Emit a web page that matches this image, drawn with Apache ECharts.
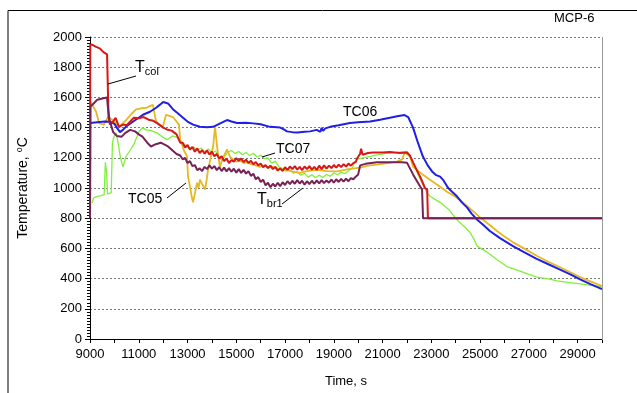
<!DOCTYPE html>
<html>
<head>
<meta charset="utf-8">
<script src="https://cdn.jsdelivr.net/npm/echarts@6/dist/echarts.min.js"></script>
<style>
  html, body { margin: 0; padding: 0; background: #fff; }
  #chart { width: 637px; height: 393px; }
</style>
</head>
<body>
<div id="chart"></div>
<script>
// tick labels shown on the time axis
const xLabels = [9000, 11000, 13000, 15000, 17000, 19000, 21000, 23000, 25000, 27000, 29000];

// [time s, temperature C]
const tc06 = [
  [9000,1430],[9300,1435],[9600,1440],[9850,1438],[10000,1425],[10100,1400],[10230,1370],[10350,1385],
  [10500,1410],[10700,1432],[10950,1460],[11170,1485],[11460,1505],[11700,1530],[11870,1552],[12000,1570],
  [12080,1582],[12200,1560],[12400,1522],[12600,1495],[12815,1465],[13000,1440],[13230,1420],[13500,1406],
  [13800,1402],[14050,1405],[14300,1425],[14620,1450],[14800,1440],[15030,1430],[15400,1432],[15700,1428],
  [16000,1422],[16380,1405],[16800,1400],[16950,1388],[17080,1375],[17300,1370],[17500,1368],[17800,1372],
  [18030,1375],[18300,1385],[18450,1372],[18500,1398],[18560,1378],[18650,1395],[18850,1405],[19200,1415],
  [19660,1430],[20000,1435],[20490,1440],[20900,1452],[21300,1465],[21600,1475],[21900,1483],[22050,1470],
  [22250,1400],[22450,1300],[22650,1210],[22850,1150],[23030,1110],[23200,1085],[23360,1075],[23500,1050],
  [23690,1000],[23850,975],[24050,945],[24250,905],[24470,870],[24650,830],[24880,790],[25100,760],
  [25400,715],[25800,670],[26350,615],[26800,575],[27300,532],[27800,495],[28280,460],[28700,428],
  [29100,395],[29550,362],[30000,330]
];

const tc07 = [
  [9080,900],[9150,935],[9300,945],[9450,950],[9580,955],[9630,1170],[9680,1100],[9720,960],[9800,950],
  [9870,970],[9920,1300],[10000,1350],[10070,1365],[10150,1300],[10250,1200],[10350,1140],[10480,1210],
  [10650,1250],[10800,1290],[11000,1370],[11150,1400],[11300,1385],[11500,1380],[11750,1365],[12000,1335],
  [12160,1320],[12400,1345],[12570,1335],[12800,1300],[12980,1275],[13100,1255],[13250,1272],[13400,1248],
  [13550,1265],[13700,1240],[13850,1258],[14000,1232],[14150,1245],[14300,1195],[14450,1188],[14550,1215],
  [14650,1238],[14800,1248],[14950,1228],[15100,1242],[15250,1220],[15400,1235],[15550,1215],[15700,1230],
  [15850,1205],[16000,1218],[16150,1195],[16300,1200],[16450,1165],[16600,1178],[16750,1140],[16900,1128],
  [17050,1112],[17200,1120],[17350,1098],[17500,1108],[17650,1085],[17800,1098],[17950,1072],[18100,1088],
  [18250,1068],[18400,1085],[18550,1070],[18700,1090],[18850,1078],[19000,1100],[19150,1088],[19300,1105],
  [19450,1095],[19600,1115],[19750,1130],[19850,1170],[19950,1190],[20200,1200],[20500,1210],[20770,1220],
  [21100,1228],[21400,1233],[21700,1238],[22000,1242],[22120,1215],[22250,1170],[22450,1090],[22660,1020],
  [22800,975],[22950,945],[23150,925],[23360,905],[23700,860],[24050,790],[24350,745],[24590,705],
  [24750,660],[24880,615],[25290,575],[25700,525],[26100,480],[26640,450],[27000,428],[27340,410],
  [27800,398],[28160,385],[28600,375],[29100,365],[29550,355],[30000,345]
];

const tc05 = [
  [9030,1570],[9100,1580],[9250,1505],[9370,1430],[9570,1420],[9740,1470],[9940,1450],[10190,1405],
  [10480,1450],[10700,1490],[10890,1520],[11100,1528],[11300,1530],[11450,1542],[11580,1550],[11700,1450],
  [11800,1420],[11990,1405],[12120,1485],[12250,1478],[12400,1470],[12650,1420],[12700,1320],[12850,1250],
  [12980,1210],[13020,1075],[13100,1010],[13180,935],[13225,905],[13300,960],[13390,1035],[13450,1000],
  [13510,1055],[13600,1025],[13720,990],[13790,1060],[13840,1120],[13950,1200],[14050,1275],[14130,1405],
  [14210,1275],[14280,1190],[14330,1140],[14450,1200],[14620,1255],[14750,1205],[14866,1190],[15000,1175],
  [15150,1182],[15300,1165],[15440,1172],[15600,1158],[15800,1150],[15973,1140],[16150,1148],[16350,1135],
  [16507,1142],[16700,1128],[16900,1122],[17081,1120],[17300,1108],[17614,1100],[17900,1112],[18312,1120],
  [18700,1112],[19132,1110],[19600,1125],[20075,1135],[20400,1148],[20773,1155],[21200,1165],[21593,1175],
  [21800,1190],[21921,1240],[22000,1225],[22126,1210],[22250,1140],[22600,1095],[22947,1055],[23300,1015],
  [23644,975],[24000,940],[24300,905],[24650,855],[25000,805],[25350,760],[25695,715],[26000,678],
  [26351,640],[26850,595],[27336,550],[27800,512],[28280,475],[28700,442],[29100,410],[29550,380],
  [30000,350]
];

const tcol = [
  [9000,800],[9010,1950],[9100,1948],[9250,1935],[9400,1925],[9550,1900],[9700,1885],[9740,1880],
  [9760,1470],[9820,1420],[9950,1440],[10050,1465],[10190,1405],[10350,1420],[10500,1415],[10650,1440],
  [10800,1465],[11000,1462],[11200,1470],[11400,1452],[11600,1445],[11800,1425],[12000,1400],[12150,1388],
  [12350,1380],[12550,1355],[12700,1300],[12800,1300],[12900,1268],[13000,1285],[13100,1255],[13200,1272],
  [13300,1240],[13400,1262],[13500,1232],[13600,1250],[13700,1228],[13800,1248],[13900,1222],[14000,1240],
  [14100,1210],[14200,1225],[14300,1195],[14400,1210],[14500,1178],[14600,1195],[14700,1165],[14800,1185],
  [14900,1175],[15000,1198],[15100,1180],[15200,1195],[15300,1172],[15400,1188],[15500,1165],[15600,1180],
  [15700,1158],[15800,1172],[15900,1150],[16000,1162],[16100,1138],[16200,1152],[16300,1132],[16400,1148],
  [16500,1125],[16600,1140],[16700,1115],[16800,1130],[16900,1112],[17000,1138],[17100,1120],[17200,1142],
  [17300,1125],[17400,1145],[17500,1122],[17600,1140],[17700,1118],[17800,1142],[17900,1125],[18000,1145],
  [18100,1122],[18200,1140],[18300,1120],[18400,1148],[18500,1125],[18600,1150],[18700,1128],[18800,1148],
  [18900,1132],[19000,1152],[19100,1135],[19200,1155],[19300,1138],[19400,1158],[19500,1142],[19600,1162],
  [19700,1148],[19800,1165],[19900,1172],[19950,1195],[20075,1225],[20120,1260],[20180,1220],[20400,1232],
  [20610,1235],[21000,1235],[21300,1238],[21700,1232],[22000,1235],[22120,1215],[22250,1170],[22400,1120],
  [22540,1075],[22740,1000],[22830,990],[22860,800],[30000,800]
];

const tbr1 = [
  [9000,800],[9020,1540],[9150,1560],[9300,1585],[9550,1595],[9700,1600],[9730,1540],[9800,1450],
  [9950,1370],[10100,1345],[10300,1340],[10450,1365],[10650,1385],[10850,1375],[11000,1355],[11150,1340],
  [11350,1300],[11500,1275],[11700,1290],[11900,1300],[12200,1275],[12550,1225],[12700,1215],[12800,1190],
  [12900,1200],[13000,1165],[13100,1178],[13200,1145],[13300,1152],[13400,1118],[13500,1130],[13600,1112],
  [13700,1140],[13800,1125],[13900,1150],[14000,1128],[14100,1145],[14200,1118],[14300,1138],[14400,1112],
  [14500,1135],[14600,1110],[14700,1132],[14800,1108],[14900,1128],[15000,1102],[15100,1125],[15200,1100],
  [15300,1120],[15400,1095],[15500,1112],[15600,1080],[15700,1095],[15800,1058],[15900,1072],[16000,1040],
  [16100,1055],[16200,1018],[16300,1035],[16400,1005],[16500,1028],[16600,1010],[16700,1035],[16800,1012],
  [16900,1038],[17000,1020],[17100,1045],[17200,1025],[17300,1048],[17400,1028],[17500,1052],[17600,1030],
  [17700,1048],[17800,1022],[17900,1045],[18000,1025],[18100,1048],[18200,1028],[18300,1050],[18400,1030],
  [18500,1052],[18600,1032],[18700,1050],[18800,1035],[18900,1055],[19000,1035],[19100,1058],[19200,1040],
  [19300,1060],[19400,1042],[19500,1062],[19600,1045],[19700,1065],[19800,1058],[19900,1075],[20000,1090],
  [20080,1150],[20300,1160],[20770,1170],[21300,1170],[21800,1170],[22000,1168],[22250,1090],[22540,1010],
  [22620,990],[22660,800],[30000,800]
];

const FONT = 'Liberation Sans, Arial, sans-serif';

function lineSeries(name, data, color, width) {
  return {
    name: name,
    type: 'line',
    data: data,
    showSymbol: false,
    symbol: 'none',
    animation: false,
    lineStyle: { color: color, width: width },
    itemStyle: { color: color }
  };
}

const chart = echarts.init(document.getElementById('chart'));

const option = {
  animation: false,
  textStyle: { fontFamily: FONT },
  grid: { left: 90, right: 35, top: 37, bottom: 53 },
  xAxis: {
    type: 'value',
    min: 9000,
    max: 30000,
    interval: 1000,
    name: 'Time, s',
    nameLocation: 'middle',
    nameGap: 36,
    nameTextStyle: { color: '#000', fontSize: 13, fontFamily: FONT },
    axisLine: { lineStyle: { color: '#000', width: 1 } },
    axisTick: { lineStyle: { color: '#000' }, length: 4 },
    axisLabel: {
      color: '#000', fontSize: 13, fontFamily: FONT, margin: 9,
      formatter: function (v) { return xLabels.indexOf(v) >= 0 ? String(v) : ''; }
    },
    splitLine: { show: false }
  },
  yAxis: {
    type: 'value',
    min: 0,
    max: 2000,
    interval: 200,
    name: 'Temperature, {sup|o}C',
    nameLocation: 'middle',
    nameGap: 58,
    nameTextStyle: {
      color: '#000', fontSize: 14, fontFamily: FONT,
      rich: { sup: { fontSize: 9, fontFamily: FONT, color: '#000', padding: [0, 0, 8, 0] } }
    },
    axisLine: { show: true, lineStyle: { color: '#000', width: 1 } },
    axisTick: { show: true, lineStyle: { color: '#000' }, length: 5 },
    minorTick: { show: true, splitNumber: 10, length: 3, lineStyle: { color: '#000' } },
    axisLabel: {
      color: '#000', fontSize: 13, fontFamily: FONT, margin: 8,
      formatter: function (v) { return String(v); }
    },
    splitLine: { show: true, lineStyle: { color: '#777', type: [2, 2], width: 1 } }
  },
  graphic: [
    { type: 'polyline', silent: true, z: 100, shape: { points: [[8, 393], [8, 10.5], [637, 10.5]] },
      style: { stroke: '#000', lineWidth: 1, fill: null } },
    { type: 'line', silent: true, z: 100, shape: { x1: 602.5, y1: 37, x2: 602.5, y2: 340 },
      style: { stroke: '#999', lineWidth: 1 } },
    { type: 'text', z: 100, x: 554, y: 18,
      style: { text: 'MCP-6', font: '13px ' + FONT, fill: '#000', verticalAlign: 'middle' } },
    { type: 'text', z: 100, x: 343, y: 112,
      style: { text: 'TC06', font: '14px ' + FONT, fill: '#000', verticalAlign: 'middle' } },
    { type: 'text', z: 100, x: 276, y: 149,
      style: { text: 'TC07', font: '14px ' + FONT, fill: '#000', verticalAlign: 'middle' } },
    { type: 'line', z: 100, shape: { x1: 262, y1: 157, x2: 275, y2: 153 }, style: { stroke: '#000', lineWidth: 1 } },
    { type: 'text', z: 100, x: 128, y: 199,
      style: { text: 'TC05', font: '14px ' + FONT, fill: '#000', verticalAlign: 'middle' } },
    { type: 'line', z: 100, shape: { x1: 167, y1: 198, x2: 186, y2: 183 }, style: { stroke: '#000', lineWidth: 1 } },
    { type: 'text', z: 100, x: 257, y: 200,
      style: {
        text: '{t|T}{s|br1}', fill: '#000', verticalAlign: 'middle',
        rich: { t: { font: '16px ' + FONT, fill: '#000' }, s: { font: '11px ' + FONT, fill: '#000', padding: [8, 0, 0, 0] } }
      } },
    { type: 'line', z: 100, shape: { x1: 282, y1: 204, x2: 303, y2: 188 }, style: { stroke: '#000', lineWidth: 1 } },
    { type: 'text', z: 100, x: 135, y: 68,
      style: {
        text: '{t|T}{s|col}', fill: '#000', verticalAlign: 'middle',
        rich: { t: { font: '16px ' + FONT, fill: '#000' }, s: { font: '11px ' + FONT, fill: '#000', padding: [8, 0, 0, 0] } }
      } },
    { type: 'line', z: 100, shape: { x1: 108, y1: 84, x2: 136, y2: 76 }, style: { stroke: '#000', lineWidth: 1 } }
  ],
  series: [
    lineSeries('TC07', tc07, '#80f03a', 1.3),
    lineSeries('TC05', tc05, '#e6b822', 1.8),
    lineSeries('TC06', tc06, '#1f1fe6', 2),
    lineSeries('Tcol', tcol, '#d81818', 2),
    lineSeries('Tbr1', tbr1, '#772256', 2)
  ]
};

chart.setOption(option);
</script>
</body>
</html>
